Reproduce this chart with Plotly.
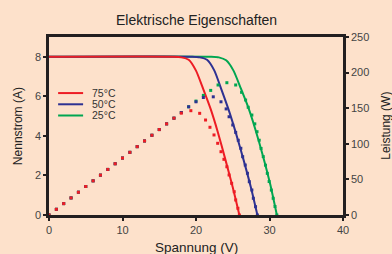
import plotly.graph_objects as go

# ---------------- data ----------------
temps = ["75°C", "50°C", "25°C"]

# current (I-V) curves, solid lines
v_i_75 = [0, 17, 18, 19, 20, 21, 22, 23, 24, 25, 25.9]
i_75 = [8.0, 8.0, 7.97, 7.85, 7.3, 6.35, 5.35, 4.15, 2.8, 1.4, 0.0]

v_i_50 = [0, 19.5, 20.5, 21.5, 22.5, 23.5, 24.5, 25.5, 26.5, 27.5, 28.35]
i_50 = [8.0, 8.0, 7.97, 7.85, 7.3, 6.3, 5.25, 4.05, 2.75, 1.35, 0.0]

v_i_25 = [0, 22.1, 23.1, 24.1, 25.1, 26.1, 27.1, 28.1, 29.1, 30.1, 31.0]
i_25 = [8.0, 8.0, 7.97, 7.82, 7.3, 6.4, 5.45, 4.3, 3.0, 1.55, 0.0]

# power curves, dotted
v_p_75 = [0, 1, 2, 3, 4, 5, 6, 7, 8, 9, 10, 11, 12, 13, 14, 15, 16, 17, 18,
          19.3, 20.5, 21.3, 21.9, 22.45, 22.95, 23.4, 23.8, 24.2, 24.5, 24.85,
          25.2, 25.4, 25.7, 25.9]
p_75 = [0, 8, 16, 24, 32, 40, 48, 56, 64, 72, 80, 88, 96, 104, 112, 120, 128, 136, 143,
        146.5, 142.8, 133.4, 123.2, 112.4, 100.7, 88.9, 78.2, 67.8, 56.2, 44.5,
        32.7, 21.1, 9.4, 0]

v_p_50 = [0, 1, 2, 3, 4, 5, 6, 7, 8, 9, 10, 11, 12, 13, 14, 15, 16, 17, 18, 19,
          20, 21, 22.35, 23.4, 24.1, 24.5, 25.0, 25.4, 25.75, 26.1, 26.35, 26.7,
          27.0, 27.25, 27.6, 27.8, 28.1, 28.35]
p_50 = [0, 8, 16, 24, 32, 40, 48, 56, 64, 72, 80, 88, 96, 104, 112, 120, 128, 136, 144, 152,
        159, 165, 166, 159, 149, 138, 126.4, 116, 105, 93.7, 81.9, 70.2,
        58.6, 46.8, 35.1, 23.5, 11.7, 0]

v_p_25 = [0, 1, 2, 3, 4, 5, 6, 7, 8, 9, 10, 11, 12, 13, 14, 15, 16, 17, 18, 19,
          20, 21, 22, 23.0, 24.2, 25.4, 26.2, 26.75, 27.1, 27.6, 28.0, 28.3, 28.6,
          28.85, 29.15, 29.45, 29.7, 29.95, 30.25, 30.5, 30.75, 31.0]
p_25 = [0, 8, 16, 24, 32, 40, 48, 56, 64, 72, 80, 88, 96, 104, 112, 120, 128, 136, 144, 152,
        160, 168, 175, 182.6, 185.8, 182.6, 172.3, 161.5, 151.3, 140.4, 128, 117, 105,
        93.5, 82, 70, 58.5, 47, 35, 23.5, 12, 0]

x_ticks = [0, 10, 20, 30, 40]
y_ticks = [0, 2, 4, 6, 8]
y2_ticks = [0, 50, 100, 150, 200, 250]

colors = {"75°C": "#ED1C24", "50°C": "#2E3192", "25°C": "#00A651"}
bg = "#FDE1CB"
ink = "#231F20"
font_family = "Liberation Sans, Arial, sans-serif"

fig = go.Figure()

# power dots (drawn green, blue, red so red ends on top)
for name, vx, py in [("25°C", v_p_25, p_25), ("50°C", v_p_50, p_50), ("75°C", v_p_75, p_75)]:
    fig.add_trace(go.Scatter(x=vx, y=py, mode="markers", yaxis="y2", showlegend=False,
                             marker=dict(color=colors[name], size=3, symbol="square"),
                             hoverinfo="skip"))

# current lines
for name, vx, iy in [("25°C", v_i_25, i_25), ("50°C", v_i_50, i_50), ("75°C", v_i_75, i_75)]:
    fig.add_trace(go.Scatter(x=vx, y=iy, mode="lines", name=name, showlegend=False,
                             line=dict(color=colors[name], width=2, shape="spline", smoothing=0.6)))

# manual legend
leg_y = [0.685, 0.622, 0.559]
for name, yy in zip(temps, leg_y):
    fig.add_shape(type="line", xref="paper", yref="paper", x0=0.031, x1=0.116, y0=yy, y1=yy,
                  line=dict(color=colors[name], width=2))
    fig.add_annotation(text=name, xref="paper", yref="paper", x=0.139, y=yy, xanchor="left",
                       yanchor="middle", showarrow=False,
                       font=dict(size=10.5, color="#333333", family=font_family))

# titles as annotations
fig.add_annotation(text="Elektrische Eigenschaften", xref="paper", yref="paper",
                   x=0.5, y=1.096, xanchor="center", yanchor="middle", showarrow=False,
                   font=dict(size=14, color="#222222", family=font_family))
fig.add_annotation(text="Spannung (V)", xref="paper", yref="paper",
                   x=0.5, y=-0.18, xanchor="center", yanchor="middle", showarrow=False,
                   font=dict(size=13.5, color="#222222", family=font_family))
fig.add_annotation(text="Nennstrom (A)", xref="paper", yref="paper", textangle=-90,
                   x=-0.105, y=0.5, xanchor="center", yanchor="middle", showarrow=False,
                   font=dict(size=12, color="#222222", family=font_family))
fig.add_annotation(text="Leistung (W)", xref="paper", yref="paper", textangle=-90,
                   x=1.145, y=0.5, xanchor="center", yanchor="middle", showarrow=False,
                   font=dict(size=12, color="#222222", family=font_family))

axis_common = dict(showline=True, linewidth=2.5, linecolor=ink, ticks="outside", ticklen=3,
                   tickwidth=2, tickcolor=ink, showgrid=False, zeroline=False, automargin=False,
                   tickfont=dict(size=11, color="#444444", family=font_family))

fig.update_layout(
    width=392, height=254,
    margin=dict(l=49, r=49, t=37, b=39),
    paper_bgcolor=bg, plot_bgcolor=bg,
    showlegend=False,
    xaxis=dict(range=[0, 40], tickvals=x_ticks, mirror=True, **axis_common),
    yaxis=dict(range=[0, 9], tickvals=y_ticks, **axis_common),
    yaxis2=dict(range=[0, 250], tickvals=y2_ticks, overlaying="y", side="right", **axis_common),
)

fig.write_html("out.html", config={"displayModeBar": False},
               post_script="document.body.style.margin='0';document.body.style.overflow='hidden';")
